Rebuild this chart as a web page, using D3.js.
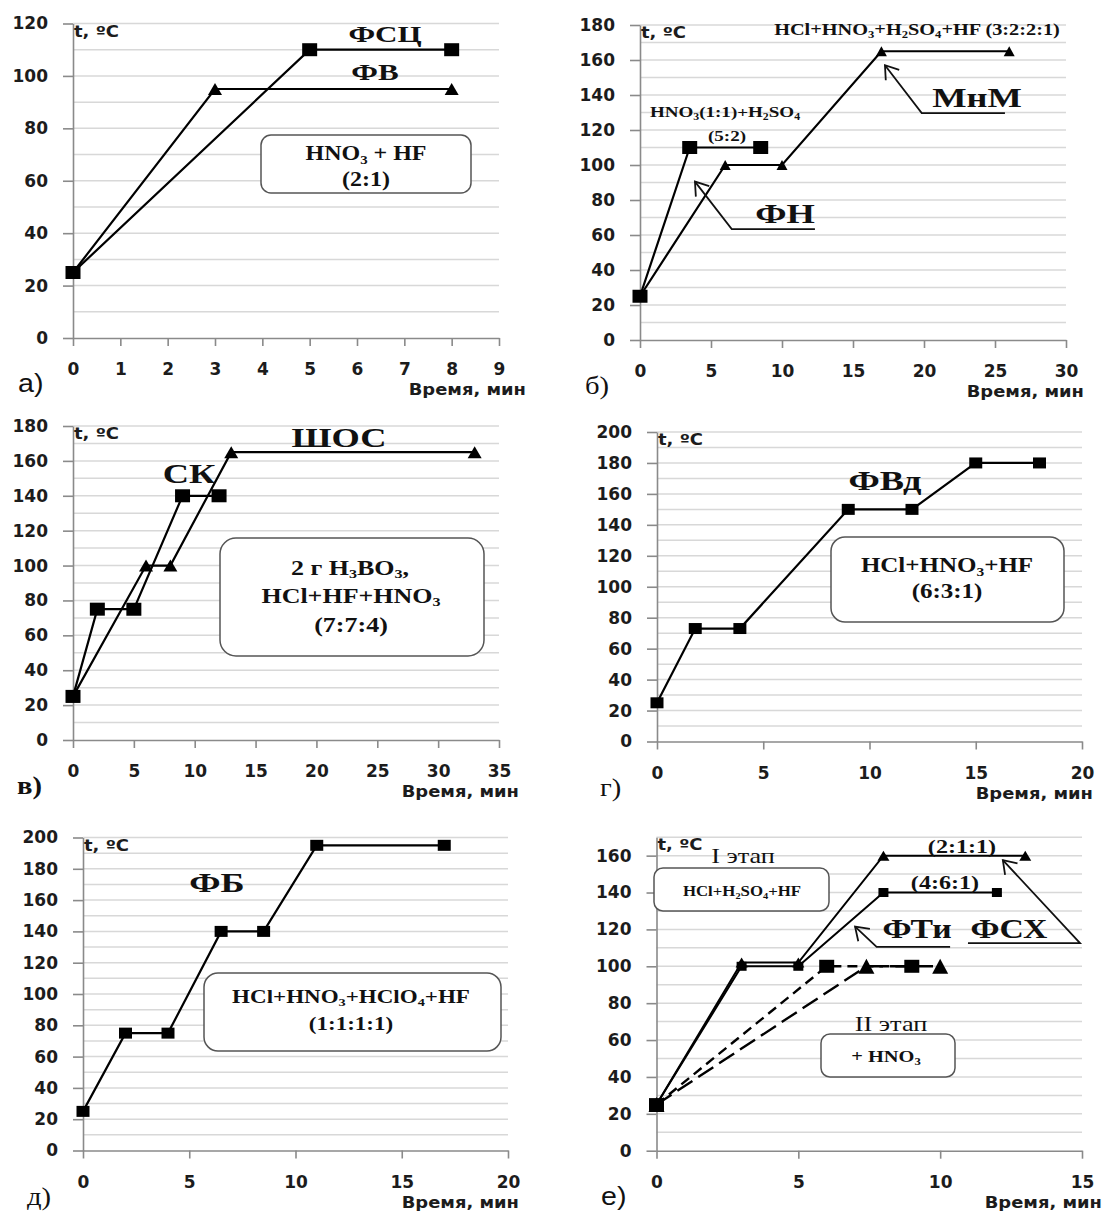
<!DOCTYPE html>
<html>
<head>
<meta charset="utf-8">
<script src="https://cdn.jsdelivr.net/npm/d3@7"></script>
<style>
  body { margin: 0; background: #fff; }
  .serif { font-family: "Liberation Serif", "Times New Roman", serif; font-weight: bold; fill: #111; }
  .serifn { font-family: "Liberation Serif", "Times New Roman", serif; fill: #111; }
  .sans { font-family: "DejaVu Sans", sans-serif; font-weight: bold; fill: #1c1c1c; }
  .sansn { font-family: "Liberation Sans", sans-serif; fill: #111; }
</style>
</head>
<body>
<svg id="fig" width="1106" height="1211"></svg>
<script>
// ---- data: time (min) / temperature (°C) ----
// а)
const fscTime = [0, 5, 8],  fscTemp = [25, 110, 110];
const fvTime  = [0, 3, 8],  fvTemp  = [25, 95, 95];
// б)
const fnTime  = [0, 3.5, 8.5],        fnTemp  = [25, 110, 110];
const mnmTime = [0, 6, 10, 17, 26],   mnmTemp = [25, 100, 100, 165, 165];
// в)
const skTime   = [0, 2, 5, 9, 12],    skTemp   = [25, 75, 75, 140, 140];
const shosTime = [0, 6, 8, 13, 33],   shosTemp = [25, 100, 100, 165, 165];
// г)
const fvdTime = [0, 1.8, 3.9, 9, 12, 15, 18], fvdTemp = [25, 73, 73, 150, 150, 180, 180];
// д)
const fbTime = [0, 2, 4, 6.5, 8.5, 11, 17],   fbTemp = [25, 75, 75, 140, 140, 195, 195];
// е)
const e211Time = [0, 3, 5, 8, 13],  e211Temp = [25, 102, 102, 160, 160];
const e461Time = [0, 3, 5, 8, 12],  e461Temp = [25, 100, 100, 140, 140];
const e2sqTime = [0, 6, 9],         e2sqTemp = [25, 100, 100];
const e2trTime = [0, 7.4, 10],      e2trTemp = [25, 100, 100];

// tick labels
const aXTicks = [0, 1, 2, 3, 4, 5, 6, 7, 8, 9];
const aYTicks = [0, 20, 40, 60, 80, 100, 120];
const bXTicks = [0, 5, 10, 15, 20, 25, 30];
const bYTicks = [0, 20, 40, 60, 80, 100, 120, 140, 160, 180];
const vXTicks = [0, 5, 10, 15, 20, 25, 30, 35];
const vYTicks = [0, 20, 40, 60, 80, 100, 120, 140, 160, 180];
const gXTicks = [0, 5, 10, 15, 20];
const gYTicks = [0, 20, 40, 60, 80, 100, 120, 140, 160, 180, 200];
const dXTicks = [0, 5, 10, 15, 20];
const dYTicks = [0, 20, 40, 60, 80, 100, 120, 140, 160, 180, 200];
const eXTicks = [0, 5, 10, 15];
const eYTicks = [0, 20, 40, 60, 80, 100, 120, 140, 160];

const fig = d3.select('#fig');

// text helper, the picture is stretched sideways so sx widens the glyphs
function label(g, x, y, parts, o) {
  const t = g.append('text')
    .attr('class', o.cls || 'serif')
    .attr('transform', `translate(${x},${y}) scale(${o.sx || 1},1)`)
    .attr('text-anchor', o.anchor || 'middle')
    .style('font-size', o.size + 'px');
  if (typeof parts === 'string') parts = [[parts]];
  parts.forEach(([s, sub]) => {
    const ts = t.append('tspan').text(s);
    if (sub) ts.attr('baseline-shift', '-25%').style('font-size', '0.62em');
  });
}

function markerPath(type, cx, cy, w, h) {
  if (type === 'square') return `M${cx - w / 2},${cy - h / 2}h${w}v${h}h${-w}Z`;
  return `M${cx},${cy - h / 2}L${cx + w / 2},${cy + h / 2}L${cx - w / 2},${cy + h / 2}Z`;
}

function drawPanel(p) {
  const g = fig.append('g');
  const x = d3.scaleLinear().domain([0, p.xMax]).range([p.left, p.right]);
  const y = d3.scaleLinear().domain([0, p.yMax]).range([p.bottom, p.top]);

  // gridlines every 10 °C
  g.append('g').selectAll('line')
    .data(y.ticks(p.yMax / 10).filter(v => v > 0))
    .join('line')
    .attr('x1', p.left).attr('x2', p.right)
    .attr('y1', d => y(d)).attr('y2', d => y(d))
    .attr('stroke', '#d8d8d8').attr('stroke-width', 1.5);

  const xa = g.append('g').attr('transform', `translate(0,${p.bottom})`)
    .call(d3.axisBottom(x).tickValues(p.xTicks).tickSize(8).tickSizeOuter(0).tickPadding(17));
  const ya = g.append('g').attr('transform', `translate(${p.left},0)`)
    .call(d3.axisLeft(y).tickValues(p.yTicks).tickSize(10).tickSizeOuter(0).tickPadding(15));
  [xa, ya].forEach(a => {
    a.select('.domain').attr('stroke', '#8a8a8a').attr('stroke-width', 1.6);
    a.selectAll('.tick line').attr('stroke', '#8a8a8a').attr('stroke-width', 1.6);
    a.selectAll('.tick text').attr('class', 'sans').attr('fill', null).style('font-size', '17px');
  });

  // series
  const line = d3.line().x(d => x(d[0])).y(d => y(d[1]));
  p.series.forEach(s => {
    const pts = d3.zip(s.time, s.temp);
    g.append('path').attr('d', line(pts))
      .attr('fill', 'none').attr('stroke', '#000')
      .attr('stroke-width', s.lw || 2.2)
      .attr('stroke-dasharray', s.dash || null);
    g.append('g').selectAll('path').data(pts).join('path')
      .attr('d', d => markerPath(s.marker, x(d[0]), y(d[1]), s.mw, s.mh))
      .attr('fill', '#000');
  });

  // leader arrows, first point is the tip
  (p.arrows || []).forEach(a => {
    const pts = a.map(d => [x(d[0]), y(d[1])]);
    g.append('path').attr('d', d3.line()(pts))
      .attr('fill', 'none').attr('stroke', '#111').attr('stroke-width', 1.8);
    const [tx, ty] = pts[0], [ex, ey] = pts[1];
    const ang = Math.atan2(ey - ty, ex - tx);
    const wing = da => [tx + 15 * Math.cos(ang + da), ty + 15 * Math.sin(ang + da)];
    g.append('path').attr('d', d3.line()([wing(0.6), [tx, ty], wing(-0.6)]))
      .attr('fill', 'none').attr('stroke', '#111').attr('stroke-width', 1.8);
  });

  // text boxes
  (p.boxes || []).forEach(b => {
    g.append('rect').attr('x', b.x).attr('y', b.y).attr('width', b.w).attr('height', b.h)
      .attr('rx', b.r).attr('fill', '#fff').attr('stroke', '#555').attr('stroke-width', 1.5);
  });

  (p.texts || []).forEach(t => label(g, t.x, t.y, t.parts, t));

  label(g, p.left + 1, p.top + 13, 't, ºC', { cls: 'sans', size: 15, sx: 1.2, anchor: 'start' });
  label(g, p.right + p.titleDx, p.bottom + 57, 'Время, мин', { cls: 'sans', size: 16, sx: 1.12, anchor: 'end' });
  label(g, p.tagX, p.bottom + 54, p.tag, { cls: p.tagCls, size: 26, sx: 1.1, anchor: 'start' });
}

const panels = [
  { // а)
    left: 73, right: 499, top: 23.5, bottom: 338, xMax: 9, yMax: 120,
    xTicks: aXTicks, yTicks: aYTicks, titleDx: 27, tag: 'а)', tagX: 18, tagCls: 'sansn',
    series: [
      { time: fscTime, temp: fscTemp, marker: 'square', mw: 15, mh: 13 },
      { time: fvTime, temp: fvTemp, marker: 'triangle', mw: 14, mh: 12 }
    ],
    boxes: [{ x: 261, y: 135, w: 210, h: 58, r: 10 }],
    texts: [
      { x: 385, y: 42, parts: 'ФСЦ', size: 23, sx: 1.35 },
      { x: 375, y: 80, parts: 'ФВ', size: 23, sx: 1.35 },
      { x: 366, y: 160, parts: [['HNO'], ['3', 1], [' + HF']], size: 20, sx: 1.2 },
      { x: 366, y: 186, parts: '(2:1)', size: 20, sx: 1.2 }
    ]
  },
  { // б)
    left: 640, right: 1066, top: 25, bottom: 340, xMax: 30, yMax: 180,
    xTicks: bXTicks, yTicks: bYTicks, titleDx: 18, tag: 'б)', tagX: 585, tagCls: 'serifn',
    series: [
      { time: fnTime, temp: fnTemp, marker: 'square', mw: 15, mh: 13 },
      { time: mnmTime, temp: mnmTemp, marker: 'triangle', mw: 11, mh: 10 }
    ],
    arrows: [
      [[17.25, 157], [19.84, 129.7], [25.7, 129.7]],
      [[3.87, 90.5], [6.46, 63.4], [12.32, 63.4]]
    ],
    texts: [
      { x: 917, y: 35, parts: [['HCl+HNO'], ['3', 1], ['+H'], ['2', 1], ['SO'], ['4', 1], ['+HF (3:2:2:1)']], size: 16, sx: 1.27 },
      { x: 725, y: 117, parts: [['HNO'], ['3', 1], ['(1:1)+H'], ['2', 1], ['SO'], ['4', 1]], size: 15, sx: 1.27 },
      { x: 727, y: 141, parts: '(5:2)', size: 15, sx: 1.27 },
      { x: 977, y: 107, parts: 'МнМ', size: 28, sx: 1.3 },
      { x: 785, y: 223, parts: 'ФН', size: 28, sx: 1.3 }
    ]
  },
  { // в)
    left: 73, right: 499, top: 426, bottom: 740, xMax: 35, yMax: 180,
    xTicks: vXTicks, yTicks: vYTicks, titleDx: 20, tag: 'в)', tagX: 17, tagCls: 'serif',
    series: [
      { time: skTime, temp: skTemp, marker: 'square', mw: 15, mh: 13 },
      { time: shosTime, temp: shosTemp, marker: 'triangle', mw: 14, mh: 12 }
    ],
    boxes: [{ x: 220, y: 538, w: 264, h: 118, r: 16 }],
    texts: [
      { x: 339, y: 447, parts: 'ШОС', size: 28, sx: 1.3 },
      { x: 189, y: 483, parts: 'СК', size: 28, sx: 1.3 },
      { x: 350, y: 575, parts: [['2 г H'], ['3', 1], ['BO'], ['3', 1], [',']], size: 20, sx: 1.3 },
      { x: 351, y: 603, parts: [['HCl+HF+HNO'], ['3', 1]], size: 20, sx: 1.3 },
      { x: 351, y: 632, parts: '(7:7:4)', size: 20, sx: 1.3 }
    ]
  },
  { // г)
    left: 657, right: 1082, top: 432, bottom: 741.5, xMax: 20, yMax: 200,
    xTicks: gXTicks, yTicks: gYTicks, titleDx: 11, tag: 'г)', tagX: 600, tagCls: 'serifn',
    series: [
      { time: fvdTime, temp: fvdTemp, marker: 'square', mw: 13, mh: 11 }
    ],
    boxes: [{ x: 831, y: 537, w: 233, h: 85, r: 14 }],
    texts: [
      { x: 885, y: 490, parts: 'ФВд', size: 28, sx: 1.3 },
      { x: 947, y: 572, parts: [['HCl+HNO'], ['3', 1], ['+HF']], size: 20, sx: 1.25 },
      { x: 947, y: 598, parts: '(6:3:1)', size: 20, sx: 1.25 }
    ]
  },
  { // д)
    left: 83, right: 508, top: 837.5, bottom: 1150.5, xMax: 20, yMax: 200,
    xTicks: dXTicks, yTicks: dYTicks, titleDx: 11, tag: 'д)', tagX: 27, tagCls: 'serifn',
    series: [
      { time: fbTime, temp: fbTemp, marker: 'square', mw: 13, mh: 11 }
    ],
    boxes: [{ x: 204, y: 973, w: 297, h: 78, r: 14 }],
    texts: [
      { x: 217, y: 892, parts: 'ФБ', size: 28, sx: 1.3 },
      { x: 351, y: 1003, parts: [['HCl+HNO'], ['3', 1], ['+HClO'], ['4', 1], ['+HF']], size: 18, sx: 1.28 },
      { x: 351, y: 1030, parts: '(1:1:1:1)', size: 18, sx: 1.28 }
    ]
  },
  { // е)
    left: 656.5, right: 1082, top: 837.2, bottom: 1150.7, xMax: 15, yMax: 170,
    xTicks: eXTicks, yTicks: eYTicks, titleDx: 20, tag: 'е)', tagX: 601, tagCls: 'sansn',
    series: [
      { time: e2sqTime, temp: e2sqTemp, marker: 'square', mw: 15, mh: 13, dash: '10,6', lw: 2.4 },
      { time: e2trTime, temp: e2trTemp, marker: 'triangle', mw: 16, mh: 15, dash: '18,7', lw: 2.4 },
      { time: e211Time, temp: e211Temp, marker: 'triangle', mw: 12, mh: 10, lw: 2 },
      { time: e461Time, temp: e461Temp, marker: 'square', mw: 10, mh: 9, lw: 2 }
    ],
    arrows: [
      [[7.0, 121.5], [7.76, 110.5], [10.35, 110.5]],
      [[12.21, 157.6], [14.93, 112.6], [10.98, 112.6]]
    ],
    boxes: [
      { x: 654, y: 868, w: 175, h: 43, r: 9 },
      { x: 821, y: 1034, w: 134, h: 43, r: 9 }
    ],
    texts: [
      { x: 743, y: 863, parts: 'I этап', size: 21, sx: 1.25, cls: 'serifn' },
      { x: 891, y: 1031, parts: 'II этап', size: 21, sx: 1.25, cls: 'serifn' },
      { x: 742, y: 896, parts: [['HCl+H'], ['2', 1], ['SO'], ['4', 1], ['+HF']], size: 14, sx: 1.2 },
      { x: 886, y: 1062, parts: [['+ HNO'], ['3', 1]], size: 17, sx: 1.2 },
      { x: 962, y: 853, parts: '(2:1:1)', size: 19, sx: 1.27 },
      { x: 945, y: 889, parts: '(4:6:1)', size: 19, sx: 1.27 },
      { x: 917, y: 938, parts: 'ФТи', size: 27, sx: 1.25 },
      { x: 1009, y: 938, parts: 'ФСХ', size: 27, sx: 1.25 }
    ]
  }
];

panels.forEach(drawPanel);
</script>
</body>
</html>
